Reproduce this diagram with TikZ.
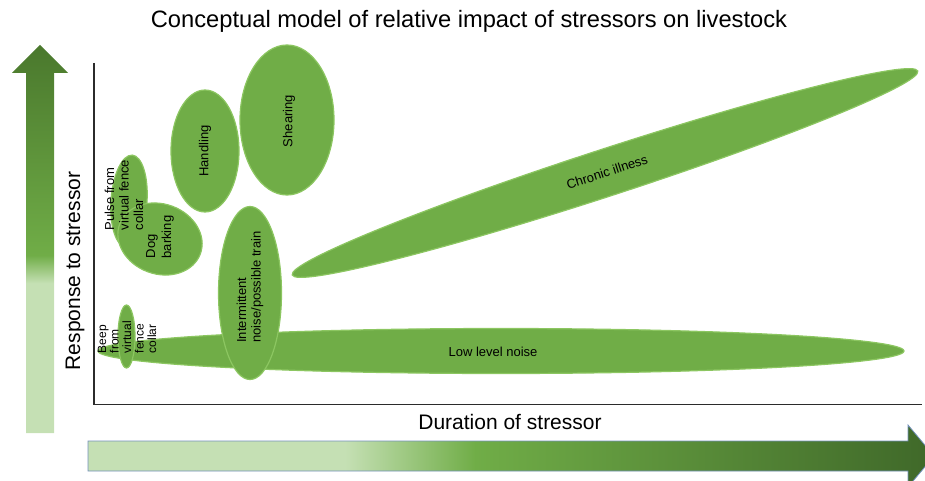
\documentclass[tikz,border=0pt]{standalone}
\usepackage{fontspec}
\setmainfont{Liberation Sans}
\usetikzlibrary{shapes.geometric}

\definecolor{leaf}{HTML}{70AD47}
\definecolor{leafrim}{HTML}{8CC661}
\definecolor{paleleaf}{HTML}{C5E0B4}
\definecolor{deepleaf}{HTML}{3F6829}
\definecolor{riseleaf}{HTML}{4A782D}
\definecolor{axisgrey}{HTML}{2B2B2B}
\definecolor{arrowedge}{HTML}{7391BC}

% gradients for the two axis arrows (centre 25bp..75bp spans the arrow)
\pgfdeclareverticalshading{riseshade}{100bp}{color(0bp)=(paleleaf); color(44.3bp)=(paleleaf); color(47.9bp)=(leaf); color(75bp)=(riseleaf); color(100bp)=(riseleaf)}
\pgfdeclarehorizontalshading{runshade}{100bp}{color(0bp)=(paleleaf); color(40.2bp)=(paleleaf); color(47.9bp)=(leaf); color(75bp)=(deepleaf); color(100bp)=(deepleaf)}

\tikzset{
  stressor/.style={ellipse, fill=leaf, draw=leafrim, line width=1.2pt, inner sep=0pt},
  tag/.style={font=\fontsize{13}{14.5}\selectfont, align=left, inner sep=0pt, text=black},
  axislabel/.style={font=\fontsize{21}{25}\selectfont, inner sep=0pt, text=black}
}

\begin{document}
\begin{tikzpicture}[x=1pt, y=-1pt]
\useasboundingbox (0,0) rectangle (925,481);

% title
\node[font=\fontsize{23.7}{28}\selectfont, anchor=base, inner sep=0pt] (title) at (469,28)
  {Conceptual model of relative impact of stressors on livestock};

% axis arrows
\path[shading=riseshade] (26,433) -- (26,73) -- (12,73) -- (40,45) -- (68,73) -- (54,73) -- (54,433) -- cycle;
\path[shading=runshade] (88,441) -- (908,441) -- (908,425) -- (934,456) -- (908,487) -- (908,471) -- (88,471) -- cycle;
\draw[arrowedge, line width=0.8pt] (88,441) -- (908,441) -- (908,425) -- (934,456) -- (908,487) -- (908,471) -- (88,471) -- cycle;

\node[axislabel, rotate=90, anchor=base] (ylabel) at (80,271) {Response to stressor};
\node[axislabel, anchor=base] (xlabel) at (510,429) {Duration of stressor};

% plot frame
\coordinate (ytop) at (94,63);
\coordinate (origin) at (94,404.5);
\coordinate (xend) at (922,404.5);
\draw[axisgrey, line width=1.4pt] (ytop) -- (origin) -- (xend);

% stressors
\node[stressor, minimum width=806pt, minimum height=45pt] (noise) at (501,351) {};
\node[stressor, minimum width=658pt, minimum height=47pt, rotate=18.05] (illness) at (605,173) {};
\node[stressor, minimum width=68pt, minimum height=122pt] (handling) at (205,151) {};
\node[stressor, minimum width=94pt, minimum height=150pt] (shearing) at (287,120) {};
\node[stressor, minimum width=92pt, minimum height=36pt, rotate=86] (pulse) at (129,201) {};
\node[stressor, minimum width=86pt, minimum height=70pt, rotate=-20] (dog) at (160,239) {};
\node[stressor, minimum width=63pt, minimum height=173pt] (train) at (250,293) {};
\node[stressor, minimum width=17pt, minimum height=63pt] (beep) at (126.5,336.5) {};

% labels
\node[tag, anchor=base] (noisetxt) at (493,356.7) {Low level noise};
\node[tag, rotate=18.05] (illnesstxt) at (607,172) {Chronic illness};
\node[tag, rotate=90] (handlingtxt) at (205,151) {Handling};
\node[tag, rotate=90] (shearingtxt) at (289,121) {Shearing};
\node[tag, rotate=90] (traintxt) at (250,287) {Intermittent\\noise/possible train};
\node[tag, rotate=90] (pulsetxt) at (124,195) {Pulse from\\virtual fence\\collar};
\node[tag, rotate=90, font=\fontsize{13}{16}\selectfont] (dogtxt) at (160,237) {Dog\\barking};
\node[tag, rotate=90, font=\fontsize{12}{12.5}\selectfont] (beeptxt) at (127,337) {Beep\\from\\virtual\\fence\\collar};
\end{tikzpicture}
\end{document}
